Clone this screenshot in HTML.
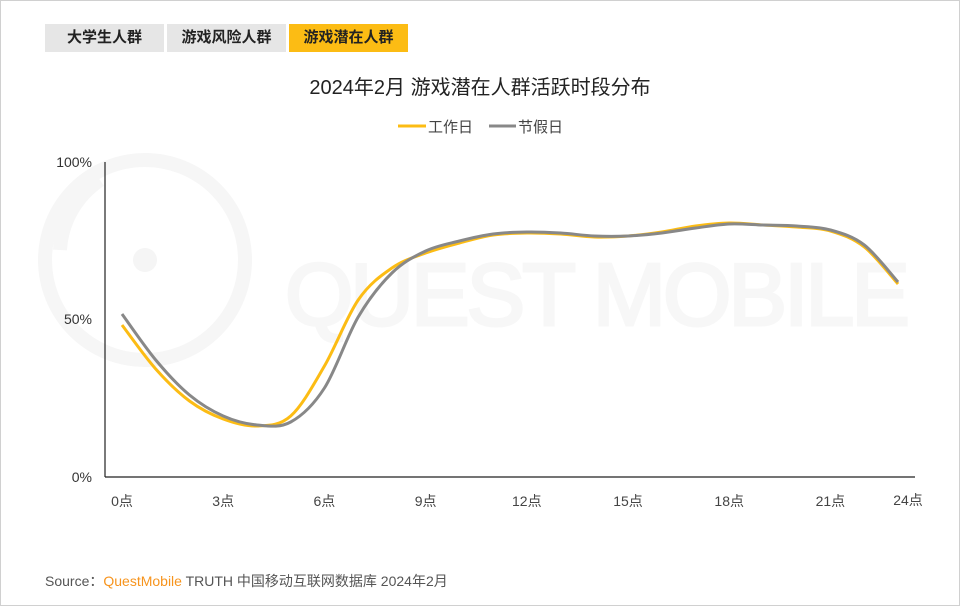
<!DOCTYPE html>
<html><head><meta charset="utf-8"><style>
body{margin:0;width:960px;height:606px;background:#fff;overflow:hidden;font-family:"Liberation Sans","Noto Sans CJK SC",sans-serif;}
.frame{position:absolute;left:0;top:0;width:958px;height:604px;border:1px solid #d0d0d0;}
.tab{position:absolute;top:24px;height:28px;line-height:28px;font-size:15px;font-weight:bold;color:#222;text-align:center;background:#e6e6e6;}
</style></head><body>
<div class="frame"></div>
<div class="tab" style="left:45px;width:119px;">大学生人群</div>
<div class="tab" style="left:167px;width:119px;">游戏风险人群</div>
<div class="tab" style="left:289px;width:119px;background:#fcbc14;">游戏潜在人群</div>
<svg width="960" height="606" style="position:absolute;left:0;top:0" id="s">
<g fill="none" stroke="#f6f6f6" stroke-width="14">
<circle cx="145" cy="260" r="100"/>
<path d="M60 250 A90 90 0 0 1 100 180" />
</g>
<circle cx="145" cy="260" r="12" fill="#f5f5f5"/>
<text x="285" y="325" font-size="88" fill="#f7f7f7" stroke="#f7f7f7" stroke-width="3" font-family="Liberation Sans" textLength="625">QUEST MOBILE</text>
<text x="480" y="94" font-size="20" fill="#222" text-anchor="middle">2024年2月 游戏潜在人群活跃时段分布</text>
<line x1="398" y1="126" x2="426" y2="126" stroke="#fcbc14" stroke-width="3"/>
<text x="428" y="132" font-size="15" fill="#444">工作日</text>
<line x1="489" y1="126" x2="516" y2="126" stroke="#888" stroke-width="3"/>
<text x="518" y="132" font-size="15" fill="#444">节假日</text>
<line x1="105" y1="162" x2="105" y2="477" stroke="#222" stroke-width="1.2"/>
<line x1="105" y1="477" x2="915" y2="477" stroke="#222" stroke-width="1.2"/>
<g font-size="14" fill="#333" text-anchor="end">
<text x="92" y="167">100%</text><text x="92" y="324">50%</text><text x="92" y="482">0%</text>
</g>
<g font-size="14" fill="#444" text-anchor="middle" id="xl"></g>
<path id="py" fill="none" stroke="#fcbc14" stroke-width="3"/>
<path id="pg" fill="none" stroke="#888" stroke-width="3"/>
<text x="45" y="586" font-size="14" fill="#555">Source：<tspan fill="#f7941d">QuestMobile</tspan> TRUTH 中国移动互联网数据库 2024年2月</text>
</svg>
<script>
var g=[314,360,395,416,425,422,388,317,273,251,241,234,232,233,236,236,233,228,224,225,226,230,245,282];
var y=[325,369,401,419,426,416,366,300,268,253,243,235,233,234,237,236,232,226,223,225,227,231,247,284];
function X(i){return 122+i*33.74;}
function path(a){var d="M"+X(0)+" "+a[0];for(var i=0;i<a.length-1;i++){var p0=a[Math.max(i-1,0)],p1=a[i],p2=a[i+1],p3=a[Math.min(i+2,a.length-1)];var x0=X(Math.max(i-1,0)),x1=X(i),x2=X(i+1),x3=X(Math.min(i+2,a.length-1));d+=" C"+(x1+(x2-x0)/6)+" "+(p1+(p2-p0)/6)+" "+(x2-(x3-x1)/6)+" "+(p2-(p3-p1)/6)+" "+x2+" "+p2;}return d;}
document.getElementById("py").setAttribute("d",path(y));
document.getElementById("pg").setAttribute("d",path(g));
var xl=document.getElementById("xl"),h="";
for(var k=0;k<8;k++){h+='<text x="'+(122+k*101.2)+'" y="506">'+(k*3)+'点</text>';}
h+='<text x="908" y="505">24点</text>';
xl.innerHTML=h;
</script>
</body></html>
